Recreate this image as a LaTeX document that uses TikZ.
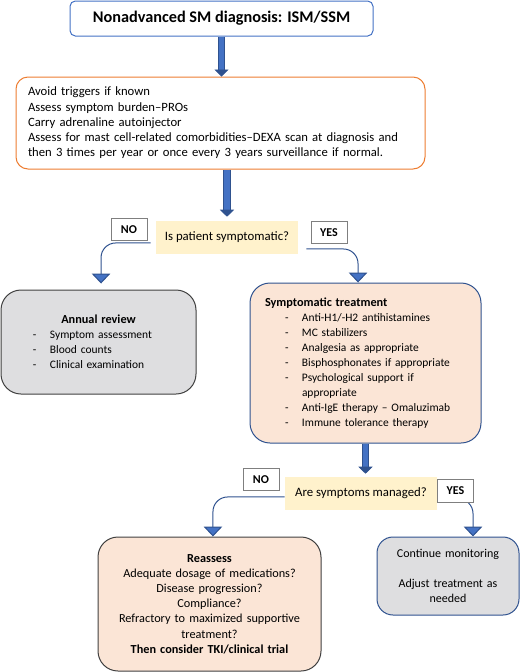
\documentclass[tikz,border=0pt]{standalone}
\usepackage{fontspec}
\setmainfont{Carlito}
\usetikzlibrary{arrows.meta}
\usetikzlibrary{positioning}

\definecolor{accblue}{HTML}{4472C4}
\definecolor{darkblue}{HTML}{2F528F}
\definecolor{accorange}{HTML}{ED7D31}
\definecolor{paleyellow}{HTML}{FFF2CC}
\definecolor{peach}{HTML}{FBE5D6}
\definecolor{softgray}{HTML}{DEDEE0}
\definecolor{darkgray}{HTML}{404040}
\definecolor{lblgray}{HTML}{7F7F7F}

\newcommand\listdash[1]{\hspace*{#1}\makebox[12.75pt][l]{-}}
\newcommand\listhead[1]{{\bfseries\fontsize{9.2}{11.3}\selectfont #1}}

\tikzset{
  box/.style={draw, line width=0.75pt, inner sep=0pt, font=\fontsize{9.5}{11.4}\selectfont},
  listbox/.style={box, font=\fontsize{8.6}{11.3}\selectfont},
  question/.style={fill=paleyellow, inner sep=0pt, align=center, minimum height=24.75pt, font=\fontsize{9.6}{11.4}\selectfont},
  answer/.style={draw=lblgray, fill=white, line width=0.75pt, inner sep=0pt, minimum width=27pt, minimum height=17pt, font=\bfseries\fontsize{9}{11}\selectfont},
  blockarrow/.style={draw=darkblue, line width=0.55pt, double=accblue, double distance=4.2pt, -{Triangle[length=5.25pt,width=10.5pt]}},
  bendarrow/.style={draw=darkblue, line width=0.75pt, rounded corners=11pt, -{Triangle[length=7.5pt,width=14pt,fill=accblue]}}
}

\begin{document}
\begin{tikzpicture}[x=0.75pt,y=-0.75pt]
  \useasboundingbox (0,0) rectangle (520,672);

  % boxes
  \node[box, draw=accblue, rounded corners=4pt, minimum width=227.25pt, minimum height=26.25pt, font=\bfseries\fontsize{12.2}{14}\selectfont]
    (diag) at (221.5,18.5) {Nonadvanced SM diagnosis: ISM/SSM};

  \node[box, draw=accorange, rounded corners=9pt, text width=288.75pt, inner xsep=9pt, minimum height=69pt, align=left]
    (measures) at (220.5,123) {Avoid triggers if known\\
      Assess symptom burden–PROs\\
      Carry adrenaline autoinjector\\
      Assess for mast cell-related comorbidities–DEXA scan at diagnosis and\\
      then 3 times per year or once every 3 years surveillance if normal.};

  \node[question, minimum width=106.5pt] (symp) at (227,237.5) {Is patient symptomatic?};

  \node[listbox, draw=darkgray, fill=softgray, rounded corners=15pt, text width=146.25pt, minimum height=78pt, align=left]
    (annual) at (98.5,342) {\makebox[\linewidth]{\listhead{Annual review}}\\
      \listdash{24pt}Symptom assessment\\
      \listdash{24pt}Blood counts\\
      \listdash{24pt}Clinical examination\\[8pt]};

  \node[listbox, draw=darkblue, fill=peach, rounded corners=15pt, text width=173.25pt, minimum height=120pt, align=left]
    (treat) at (365.5,363) {\hspace*{11.25pt}\listhead{Symptomatic treatment}\\
      \listdash{26.25pt}Anti-H1/-H2 antihistamines\\
      \listdash{26.25pt}MC stabilizers\\
      \listdash{26.25pt}Analgesia as appropriate\\
      \listdash{26.25pt}Bisphosphonates if appropriate\\
      \listdash{26.25pt}Psychological support if\\
      \hspace*{39pt}appropriate\\
      \listdash{26.25pt}Anti-IgE therapy – Omaluzimab\\
      \listdash{26.25pt}Immune tolerance therapy};

  \node[question, minimum width=114pt] (managed) at (361,493.5) {Are symptoms managed?};

  \node[box, draw=darkgray, fill=peach, rounded corners=15pt, text width=167.25pt, minimum height=100.5pt, align=center, font=\fontsize{9.2}{11.4}\selectfont]
    (reassess) at (209.5,604) {\textbf{Reassess}\\
      Adequate dosage of medications?\\
      Disease progression?\\
      Compliance?\\
      Refractory to maximized supportive\\
      treatment?\\
      \textbf{Then consider TKI/clinical trial}};

  \node[box, draw=darkblue, fill=softgray, rounded corners=12pt, text width=106.5pt, minimum height=58.5pt, align=center, font=\fontsize{9}{11.4}\selectfont]
    (monitor) at (448,576) {Continue monitoring\\
      \mbox{}\\
      Adjust treatment as\\
      needed};

  % connectors
  \draw[blockarrow] (diag.south) -- (diag.south |- measures.north);
  \draw[blockarrow] (measures.south -| symp.north) -- ([yshift=3pt]symp.north);
  \draw[blockarrow] (treat.south) -- ([yshift=2.25pt]treat.south |- managed.north);

  \draw[bendarrow] ([xshift=-3.75pt,yshift=-4.1pt]symp.west) -| ([xshift=1.9pt,yshift=4.5pt]annual.north);
  \draw[bendarrow] ([xshift=6pt,yshift=-8.6pt]symp.east) -| ([xshift=-5.6pt]treat.north);
  \draw[bendarrow] ([yshift=-2.6pt]managed.west) -| ([xshift=2.6pt]reassess.north);
  \draw[bendarrow] ([yshift=-4pt]managed.east) -| ([xshift=18.75pt]monitor.north);

  % answers
  \node[answer] (no1) at (129,229.5) {NO};
  \node[answer] (yes1) at (329,232.5) {YES};
  \node[answer] (no2) at (261,479.5) {NO};
  \node[answer] (yes2) at (455.5,491) {YES};
\end{tikzpicture}
\end{document}
